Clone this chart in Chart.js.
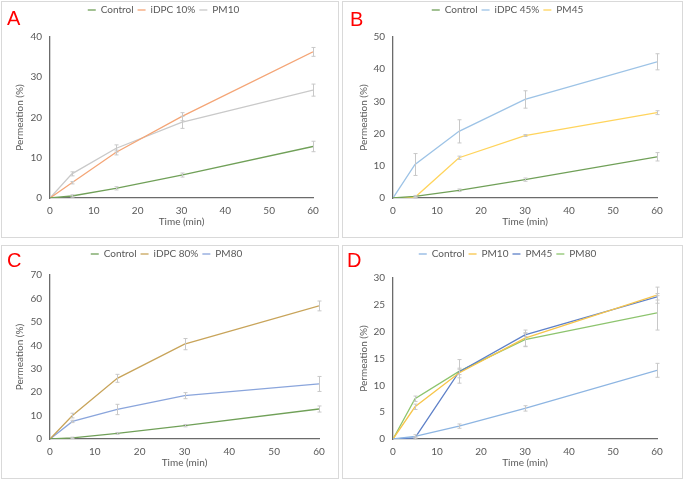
<!DOCTYPE html>
<html>
<head>
<meta charset="utf-8">
<script src="https://cdn.jsdelivr.net/npm/chart.js@4"></script>
<style>
  body { margin: 0; background: #fff; width: 685px; height: 481px; position: relative; overflow: hidden; }
  canvas { position: absolute; outline: 1px solid #d9d9d9; outline-offset: -1px; }
  .letter { position: absolute; color: #ff0000; font: 20px "Liberation Sans", Arial, sans-serif; line-height: 20px; }
</style>
</head>
<body>
<canvas id="chartA" width="338" height="237" style="left:1px;top:1px"></canvas>
<canvas id="chartB" width="341" height="237" style="left:342px;top:1px"></canvas>
<canvas id="chartC" width="338" height="234" style="left:1px;top:245px"></canvas>
<canvas id="chartD" width="341" height="234" style="left:342px;top:245px"></canvas>
<div class="letter" style="left:7px;top:8px">A</div>
<div class="letter" style="left:350px;top:9px">B</div>
<div class="letter" style="left:7px;top:250px">C</div>
<div class="letter" style="left:347px;top:250px">D</div>
<script>
// sampling times (min)
const times = [0, 5, 15, 30, 60];

// permeation (%) and error (+/-) per formulation
const control = [0, 0.5, 2.4, 5.7, 12.8];
const controlErr = [0, 0.3, 0.4, 0.5, 1.3];
const idpc10 = [0, 3.8, 11.3, 20.2, 36.3];
const idpc10Err = [0, 0.3, 0.6, 1.0, 1.1];
const pm10 = [0, 6.0, 12.3, 18.8, 26.8];
const pm10Err = [0, 0.5, 0.9, 1.5, 1.5];
const idpc45 = [0, 10.4, 20.7, 30.6, 42.3];
const idpc45Err = [0, 3.4, 3.6, 2.7, 2.5];
const pm45 = [0, 0.2, 12.5, 19.4, 26.5];
const pm45Err = [0, 0.2, 0.5, 0.3, 0.6];
const idpc80 = [0, 10.0, 25.9, 40.5, 56.8];
const idpc80Err = [0, 1.0, 1.7, 2.4, 2.1];
const pm80 = [0, 7.5, 12.6, 18.5, 23.5];
const pm80Err = [0, 0.5, 2.2, 1.3, 3.2];

const textColor = "#595959";
const fontFamily = "Lato, 'Liberation Sans', sans-serif";

// push the plot area down below the legend
const legendGap = {
  id: "legendGap",
  afterInit(chart, args, opts) {
    const fit = chart.legend.fit;
    chart.legend.fit = function () {
      fit.bind(chart.legend)();
      this.height += opts.gap || 0;
    };
  },
};

const errorBars = {
  id: "errorBars",
  afterDatasetsDraw(chart) {
    const ctx = chart.ctx;
    const x = chart.scales.x;
    const y = chart.scales.y;
    ctx.save();
    ctx.strokeStyle = "#c8c8c8";
    ctx.lineWidth = 1;
    chart.data.datasets.forEach((ds) => {
      if (!ds.errors) return;
      ds.data.forEach((p, i) => {
        const e = ds.errors[i];
        if (!e) return;
        const px = Math.round(x.getPixelForValue(p.x)) + 0.5;
        const top = y.getPixelForValue(p.y + e);
        const bottom = y.getPixelForValue(p.y - e);
        ctx.beginPath();
        ctx.moveTo(px, top);
        ctx.lineTo(px, bottom);
        ctx.moveTo(px - 2, top);
        ctx.lineTo(px + 2, top);
        ctx.moveTo(px - 2, bottom);
        ctx.lineTo(px + 2, bottom);
        ctx.stroke();
      });
    });
    ctx.restore();
  },
};

function makeChart(id, cfg) {
  return new Chart(document.getElementById(id), {
    type: "line",
    data: {
      datasets: cfg.series.map((s) => ({
        label: s.label,
        data: times.map((t, i) => ({ x: t, y: s.values[i] })),
        errors: s.errors,
        borderColor: s.color,
        backgroundColor: s.color,
        borderWidth: 1.3,
        pointRadius: 0,
        tension: 0,
        fill: false,
      })),
    },
    options: {
      responsive: false,
      animation: false,
      layout: { padding: cfg.padding },
      plugins: {
        legendGap: { gap: cfg.gap },
        tooltip: { enabled: false },
        legend: {
          position: "top",
          labels: {
            usePointStyle: true,
            pointStyle: "line",
            pointStyleWidth: 8,
            padding: 4,
            color: textColor,
            font: { family: fontFamily, size: 10 },
          },
        },
      },
      scales: {
        x: {
          type: "linear",
          min: 0,
          max: 60,
          afterFit: (scale) => { scale.height = 30; },
          grid: { display: false, drawTicks: false },
          border: { display: true, color: "#6b6b6b", width: 1.3 },
          ticks: { stepSize: 10, padding: 7, maxRotation: 0, color: textColor, font: { family: fontFamily, size: 10 } },
          title: { display: true, text: "Time (min)", padding: 0, color: textColor, font: { family: fontFamily, size: 10 } },
        },
        y: {
          min: 0,
          max: cfg.yMax,
          afterFit: (scale) => { scale.width = cfg.yWidth; },
          grid: { display: false, drawTicks: false },
          border: { display: true, color: "#6b6b6b", width: 1.3 },
          ticks: { stepSize: cfg.yStep, padding: 8, color: textColor, font: { family: fontFamily, size: 10 } },
          title: { display: true, text: "Permeation (%)", padding: 0, color: textColor, font: { family: fontFamily, size: 10 } },
        },
      },
    },
    plugins: [legendGap, errorBars],
  });
}

makeChart("chartA", {
  yMax: 40, yStep: 10, yWidth: 36, gap: 12,
  padding: { left: 13, right: 26, top: 0, bottom: 10 },
  series: [
    { label: "Control", values: control, errors: controlErr, color: "#70a058" },
    { label: "iDPC 10%", values: idpc10, errors: idpc10Err, color: "#f4a576" },
    { label: "PM10", values: pm10, errors: pm10Err, color: "#c9c9c9" },
  ],
});

makeChart("chartB", {
  yMax: 50, yStep: 10, yWidth: 35, gap: 12,
  padding: { left: 16, right: 26, top: 0, bottom: 10 },
  series: [
    { label: "Control", values: control, errors: controlErr, color: "#70a058" },
    { label: "iDPC 45%", values: idpc45, errors: idpc45Err, color: "#9dc3e6" },
    { label: "PM45", values: pm45, errors: pm45Err, color: "#ffd45c" },
  ],
});

makeChart("chartC", {
  yMax: 70, yStep: 10, yWidth: 36, gap: 6,
  padding: { left: 13, right: 20, top: 0, bottom: 10 },
  series: [
    { label: "Control", values: control, errors: controlErr, color: "#70a058" },
    { label: "iDPC 80%", values: idpc80, errors: idpc80Err, color: "#c8a45a" },
    { label: "PM80", values: pm80, errors: pm80Err, color: "#8aa5dc" },
  ],
});

makeChart("chartD", {
  yMax: 30, yStep: 5, yWidth: 35, gap: 9,
  padding: { left: 16, right: 26, top: 0, bottom: 10 },
  series: [
    { label: "Control", values: control, errors: controlErr, color: "#8db5e2" },
    { label: "PM10", values: pm10, errors: pm10Err, color: "#f7c54a" },
    { label: "PM45", values: pm45, errors: pm45Err, color: "#5e80c8" },
    { label: "PM80", values: pm80, errors: pm80Err, color: "#8dc46e" },
  ],
});
</script>
</body>
</html>
